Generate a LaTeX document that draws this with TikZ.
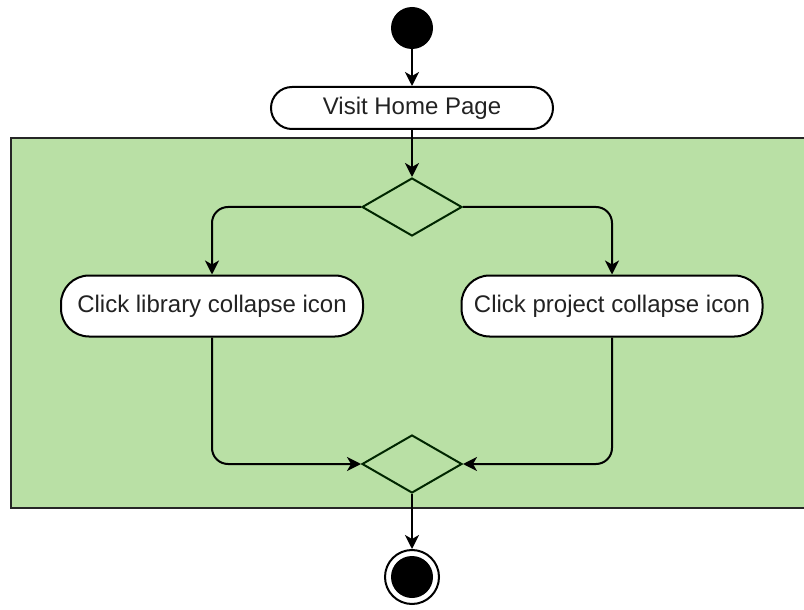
\documentclass[tikz,border=0pt]{standalone}
\usepackage{fontspec}
\setmainfont{Liberation Sans}
\usetikzlibrary{arrows.meta}
\usetikzlibrary{shapes.geometric}

\definecolor{lanegreen}{HTML}{B9E0A5}
\definecolor{textgray}{HTML}{222222}

\tikzset{
  flow/.style={black,line width=1pt,-{Stealth[length=7pt,width=7pt,inset=2pt]}},
  action/.style={draw=black,line width=1pt,fill=white,text=textgray,font=\fontsize{12}{14}\selectfont,inner sep=0pt},
  decision/.style={diamond,draw=black!85!green,line width=1pt,fill=lanegreen,inner sep=0pt,minimum width=50pt,minimum height=29pt}
}

\begin{document}
\begin{tikzpicture}[x=0.5pt,y=-0.5pt]

\useasboundingbox (0,0) rectangle (804,610);

% swimlane
\begin{scope}
\clip (0,0) rectangle (804,610);
\draw[fill=lanegreen,draw=black!85,line width=1pt] (11,138) rectangle (830,508);
\end{scope}

\node[circle,fill=black,minimum size=21pt,inner sep=0pt] (start) at (412,28) {};
\node[action,rounded corners=10.5pt,minimum width=141pt,minimum height=21pt] (home) at (412,108) {Visit Home Page};
\node[decision] (dtop) at (412,207) {};
\node[action,rounded corners=14pt,minimum width=151pt,minimum height=30.5pt] (lib) at (212,306) {Click library collapse icon};
\node[action,rounded corners=14pt,minimum width=150.5pt,minimum height=30.5pt] (proj) at (612,306) {Click project collapse icon};
\node[decision] (dbot) at (412,464) {};
\node[circle,draw=black,line width=1pt,fill=white,minimum size=27pt,inner sep=0pt] (end) at (412,577) {};
\fill[black] (end.center) circle (10.5pt);

\draw[flow] (start)--(home);
\draw[flow] (home)--(dtop);
\draw[flow,rounded corners=8pt] (dtop.west) -| (lib.north);
\draw[flow,rounded corners=8pt] (dtop.east) -| (proj.north);
\draw[flow,rounded corners=8pt] (lib.south) |- (dbot.west);
\draw[flow,rounded corners=8pt] (proj.south) |- (dbot.east);
\draw[flow] (dbot)--(end);

\end{tikzpicture}
\end{document}
